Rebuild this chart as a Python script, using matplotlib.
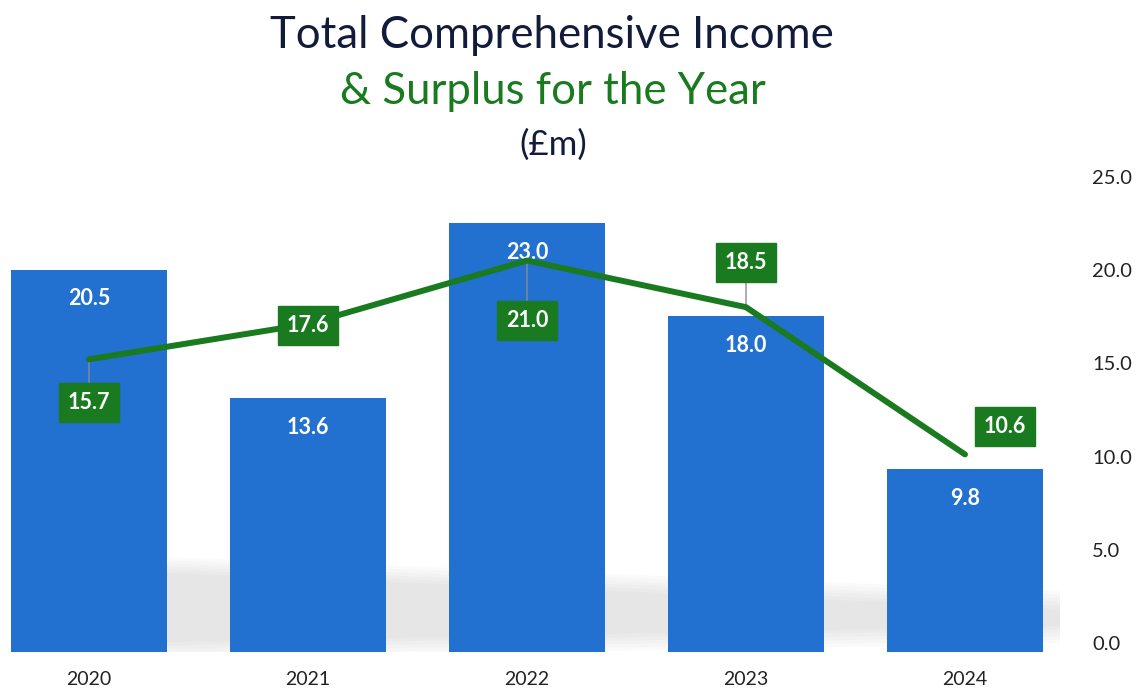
import numpy as np
import matplotlib.pyplot as plt
import matplotlib.transforms as mtransforms
from matplotlib.patches import Polygon

## Chart data
Years = ["2020", "2021", "2022", "2023", "2024"]
Total_Comprehensive_Income = [20.5, 13.6, 23.0, 18.0, 9.8]
Surplus_For_Year = [15.7, 17.6, 21.0, 18.5, 10.6]
Y_Ticks = [0.0, 5.0, 10.0, 15.0, 20.0, 25.0]

## Where each green label sits relative to its point (pixels)
Surplus_Label_Offsets = [(0, -43), (0, -2), (0, -60), (0, 45), (40, 28)]

Bar_Colour = "#2270d0"
Line_Colour = "#1a7a1f"
Title_Colour = "#121c3a"

plt.rcParams['font.family'] = ['Lato', 'DejaVu Sans']

fig = plt.figure(figsize=(11.42, 6.9), dpi=100)
ax = fig.add_axes([0.0, 38 / 690, 1060 / 1142, 466 / 690])

x = np.arange(len(Years))
px_per_unit = 219.0
ax.set_xlim(-89 / px_per_unit, (1060 - 89) / px_per_unit)
ax.set_ylim(0, 25)

## Soft grey shadow behind the bars
for k in range(6):
    grow = k * 0.03
    shadow = Polygon([(0.25 - grow, 0.5 - grow * 6), (4.45 + grow, 1.4 - grow * 6),
                      (4.45 + grow, 2.3 + grow * 6), (0.25 - grow, 4.3 + grow * 6)],
                     closed=True, facecolor="#a0a0a0", edgecolor="none", alpha=0.045, zorder=1)
    ax.add_patch(shadow)

## Bars
bars = ax.bar(x, Total_Comprehensive_Income, width=0.71, color=Bar_Colour, zorder=2)
for xi, val in zip(x, Total_Comprehensive_Income):
    ax.annotate(f"{val:.1f}", (xi, val), xytext=(0, -29), textcoords="offset pixels",
                ha="center", va="center", color="white", fontsize=15.5, fontweight="bold", zorder=3)

## Surplus line
ax.plot(x, Surplus_For_Year, color=Line_Colour, linewidth=4.3, solid_capstyle="round", zorder=4)

for xi, val, (dx, dy) in zip(x, Surplus_For_Year, Surplus_Label_Offsets):
    if abs(dy) > 30:
        ax.annotate("", (xi, val), xytext=(dx, dy), textcoords="offset pixels",
                    arrowprops=dict(arrowstyle="-", color="#8c8c8c", lw=1.0), zorder=3)
    ax.annotate(f"{val:.1f}", (xi, val), xytext=(dx, dy), textcoords="offset pixels",
                ha="center", va="center", color="white", fontsize=15.5, fontweight="bold",
                bbox=dict(boxstyle="square,pad=0.42", facecolor=Line_Colour, edgecolor=Line_Colour),
                zorder=5)

## Axes styling
for side in ["top", "bottom", "left", "right"]:
    ax.spines[side].set_visible(False)
ax.set_xticks(x)
ax.set_xticklabels(Years, fontsize=14, color="#222222")
ax.tick_params(axis="x", length=0, pad=14)
ax.yaxis.tick_right()
ax.set_yticks(Y_Ticks)
ax.set_yticklabels([f"{t:.1f}" for t in Y_Ticks], fontsize=14.5, color="#222222")
ax.tick_params(axis="y", length=0, pad=23)
## the scanned tick labels sit slightly above the bar scale
lift = mtransforms.ScaledTranslation(0, 9 / 100, fig.dpi_scale_trans)
for label in ax.get_yticklabels():
    label.set_transform(label.get_transform() + lift)

## Titles
fig.text(552 / 1142, 1 - 35 / 690, "Total Comprehensive Income", ha="center", va="center",
         fontsize=31.5, color=Title_Colour)
fig.text(553 / 1142, 1 - 92 / 690, "& Surplus for the Year", ha="center", va="center",
         fontsize=31.5, color=Line_Colour)
fig.text(553 / 1142, 1 - 145 / 690, "(£m)", ha="center", va="center",
         fontsize=25, color=Title_Colour)

fig.savefig("out.png", dpi=100)
